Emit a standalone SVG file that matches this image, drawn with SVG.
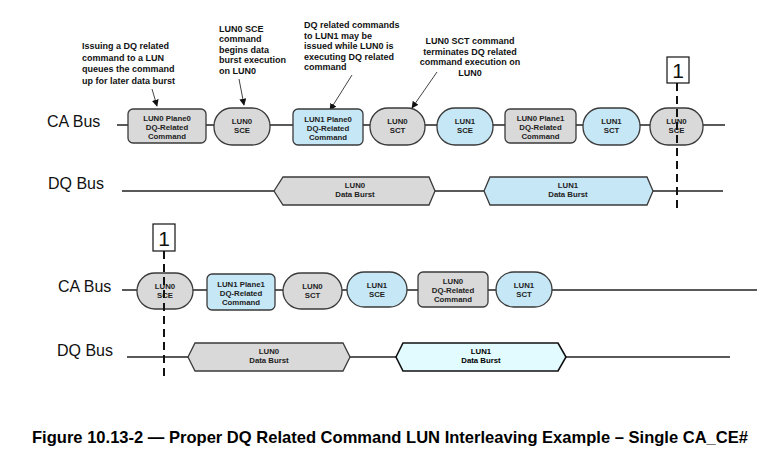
<svg xmlns="http://www.w3.org/2000/svg" width="767" height="461" viewBox="0 0 767 461">
<defs>
<marker id="ah" viewBox="0 0 10 10" refX="9" refY="5" markerWidth="7" markerHeight="7" orient="auto" markerUnits="userSpaceOnUse">
<path d="M0,0 L10,5 L0,10 z" fill="#111"/>
</marker>
<style>
.bus{stroke:#222;stroke-width:1.6;fill:none}
.gray{fill:#d9d9d9;stroke:#3a3a3a;stroke-width:1.3}
.blue{fill:#c6e7f6;stroke:#3a3a3a;stroke-width:1.3}
.cyan{fill:#e2fbff;stroke:#111;stroke-width:1.6}
.lbl{font-family:"Liberation Sans",Arial,sans-serif;font-weight:bold;font-size:7.8px;fill:#222;text-anchor:middle}
.bt{font-family:"Liberation Sans",Arial,sans-serif;font-size:16px;fill:#111}
.ann{font-family:"Liberation Sans",Arial,sans-serif;font-weight:bold;font-size:9px;fill:#111}
.arr{stroke:#444;stroke-width:1;fill:none}
.dash{stroke:#111;stroke-width:2;stroke-dasharray:8 5;fill:none}
.mk{fill:#fff;stroke:#111;stroke-width:1.2}
.mkt{font-family:"Liberation Sans",Arial,sans-serif;font-size:21px;fill:#111;text-anchor:middle}
</style>
</defs>
<rect width="767" height="461" fill="#fff"/>

<!-- bus labels -->
<text class="bt" x="47" y="127">CA Bus</text>
<text class="bt" x="48" y="189">DQ Bus</text>
<text class="bt" x="58" y="292">CA Bus</text>
<text class="bt" x="57" y="356">DQ Bus</text>

<!-- connectors / bus lines -->
<g id="connectors">
<line class="bus" x1="117" y1="125" x2="725" y2="125"/>
<line class="bus" x1="122" y1="191" x2="723" y2="191"/>
<line class="bus" x1="122" y1="290" x2="757" y2="290"/>
<line class="bus" x1="127" y1="357" x2="730" y2="357"/>
<line class="arr" x1="152" y1="89" x2="157" y2="106" marker-end="url(#ah)"/>
<line class="arr" x1="239" y1="79" x2="244" y2="105" marker-end="url(#ah)"/>
<line class="arr" x1="352" y1="75" x2="330" y2="110" marker-end="url(#ah)"/>
<line class="arr" x1="437" y1="72" x2="412" y2="108" marker-end="url(#ah)"/>
</g>

<!-- annotations -->
<text class="ann" x="82"><tspan x="82" y="49">Issuing a DQ related</tspan><tspan x="82" y="60.5">command to a LUN</tspan><tspan x="82" y="72">queues the command</tspan><tspan x="82" y="83.5">up for later data burst</tspan></text>
<text class="ann"><tspan x="219" y="31.5">LUN0 SCE</tspan><tspan x="219" y="42">command</tspan><tspan x="219" y="52.5">begins data</tspan><tspan x="219" y="63">burst execution</tspan><tspan x="219" y="73.5">on LUN0</tspan></text>
<text class="ann"><tspan x="304" y="28">DQ related commands</tspan><tspan x="304" y="38.5">to LUN1 may be</tspan><tspan x="304" y="49">issued while LUN0 is</tspan><tspan x="304" y="59.5">executing DQ related</tspan><tspan x="304" y="70">command</tspan></text>
<text class="ann" text-anchor="middle"><tspan x="470" y="44">LUN0 SCT command</tspan><tspan x="470" y="54.5">terminates DQ related</tspan><tspan x="470" y="65">command execution on</tspan><tspan x="470" y="75.5">LUN0</tspan></text>

<!-- top CA row -->
<g id="t_lun0_plane0"><rect class="gray" x="128" y="109" width="78" height="34" rx="5"/><text class="lbl"><tspan x="167" y="121">LUN0 Plane0</tspan><tspan x="167" y="130">DQ-Related</tspan><tspan x="167" y="139">Command</tspan></text></g>
<g id="t_lun0_sce"><rect class="gray" x="214" y="108" width="56" height="37" rx="18"/><text class="lbl"><tspan x="242" y="124">LUN0</tspan><tspan x="242" y="133">SCE</tspan></text></g>
<g id="t_lun1_plane0"><rect class="blue" x="293" y="109" width="70" height="36" rx="5"/><text class="lbl"><tspan x="328" y="122">LUN1 Plane0</tspan><tspan x="328" y="131">DQ-Related</tspan><tspan x="328" y="140">Command</tspan></text></g>
<g id="t_lun0_sct"><rect class="gray" x="370" y="108" width="55" height="37" rx="18"/><text class="lbl"><tspan x="397.5" y="124">LUN0</tspan><tspan x="397.5" y="133">SCT</tspan></text></g>
<g id="t_lun1_sce"><rect class="blue" x="437" y="108" width="56" height="37" rx="18"/><text class="lbl"><tspan x="465" y="124">LUN1</tspan><tspan x="465" y="133">SCE</tspan></text></g>
<g id="t_lun0_plane1"><rect class="gray" x="505" y="109" width="71" height="34" rx="5"/><text class="lbl"><tspan x="540.5" y="121">LUN0 Plane1</tspan><tspan x="540.5" y="130">DQ-Related</tspan><tspan x="540.5" y="139">Command</tspan></text></g>
<g id="t_lun1_sct"><rect class="blue" x="583" y="108" width="57" height="37" rx="18"/><text class="lbl"><tspan x="611.5" y="124">LUN1</tspan><tspan x="611.5" y="133">SCT</tspan></text></g>
<g id="t_lun0_sce2"><rect class="gray" x="650" y="108" width="53" height="37" rx="18"/><text class="lbl"><tspan x="676.5" y="124">LUN0</tspan><tspan x="676.5" y="133">SCE</tspan></text></g>

<!-- top DQ row -->
<g id="t_lun0_burst"><polygon class="gray" points="274,191 283,177 429,177 435,191 429,205 283,205"/><text class="lbl"><tspan x="355" y="188">LUN0</tspan><tspan x="355" y="197">Data Burst</tspan></text></g>
<g id="t_lun1_burst"><polygon class="blue" points="484,191 490,177 647,177 653,191 647,205 490,205"/><text class="lbl"><tspan x="568" y="188">LUN1</tspan><tspan x="568" y="197">Data Burst</tspan></text></g>

<!-- top marker -->
<g id="t_marker"><line class="dash" x1="677" y1="83" x2="677" y2="212"/><rect class="mk" x="667" y="57" width="22" height="26"/><text class="mkt" x="678" y="78">1</text></g>

<!-- bottom CA row -->
<g id="b_lun0_sce"><rect class="gray" x="137" y="273" width="56" height="36" rx="18"/><text class="lbl"><tspan x="165" y="289">LUN0</tspan><tspan x="165" y="298">SCE</tspan></text></g>
<g id="b_lun1_plane1"><rect class="blue" x="207" y="274" width="68" height="36" rx="5"/><text class="lbl"><tspan x="241" y="287">LUN1 Plane1</tspan><tspan x="241" y="296">DQ-Related</tspan><tspan x="241" y="305">Command</tspan></text></g>
<g id="b_lun0_sct"><rect class="gray" x="283" y="273" width="59" height="36" rx="18"/><text class="lbl"><tspan x="312.5" y="289">LUN0</tspan><tspan x="312.5" y="298">SCT</tspan></text></g>
<g id="b_lun1_sce"><rect class="blue" x="347" y="272" width="60" height="35" rx="17.5"/><text class="lbl"><tspan x="377" y="288">LUN1</tspan><tspan x="377" y="297">SCE</tspan></text></g>
<g id="b_lun0_dq"><rect class="gray" x="418" y="272" width="70" height="35" rx="5"/><text class="lbl"><tspan x="453" y="284">LUN0</tspan><tspan x="453" y="293">DQ-Related</tspan><tspan x="453" y="302">Command</tspan></text></g>
<g id="b_lun1_sct"><rect class="blue" x="496" y="272" width="56" height="35" rx="17.5"/><text class="lbl"><tspan x="524" y="288">LUN1</tspan><tspan x="524" y="297">SCT</tspan></text></g>

<!-- bottom DQ row -->
<g id="b_lun0_burst"><polygon class="gray" points="188,357 195,343 343,343 350,357 343,371 195,371"/><text class="lbl"><tspan x="269" y="354">LUN0</tspan><tspan x="269" y="363">Data Burst</tspan></text></g>
<g id="b_lun1_burst"><polygon class="cyan" points="396,357 403,343 558,343 566,357 558,371 403,371"/><text class="lbl" style="fill:#000"><tspan x="481" y="354">LUN1</tspan><tspan x="481" y="363">Data Burst</tspan></text></g>

<!-- bottom marker -->
<g id="b_marker"><line class="dash" x1="164" y1="251" x2="164" y2="379"/><rect class="mk" x="153" y="224" width="22" height="27"/><text class="mkt" x="164" y="246">1</text></g>

<!-- caption -->
<text x="32" y="443" font-family="'Liberation Sans',Arial,sans-serif" font-weight="bold" font-size="17" fill="#000" textLength="716" lengthAdjust="spacingAndGlyphs">Figure 10.13-2 — Proper DQ Related Command LUN Interleaving Example – Single CA_CE#</text>
</svg>
